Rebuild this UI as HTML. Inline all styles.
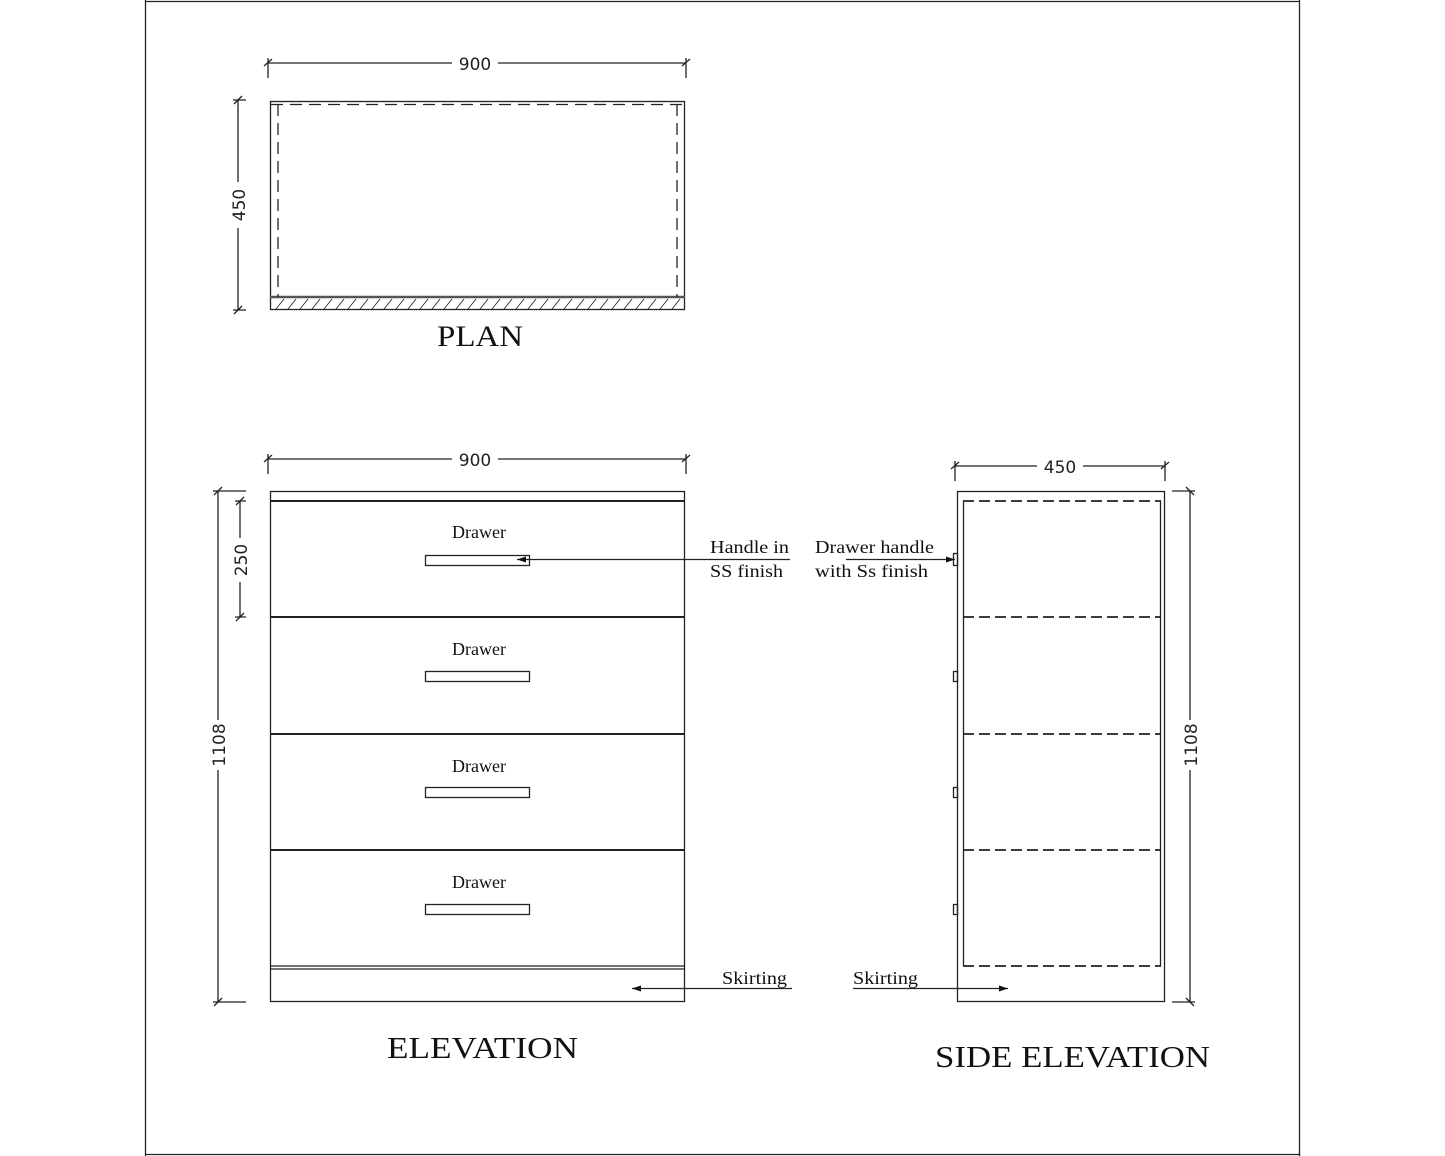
<!DOCTYPE html>
<html><head><style>
html,body{margin:0;padding:0;background:#fff;}
svg{display:block;}
.d{font-family:"DejaVu Sans","Liberation Sans",sans-serif;font-size:17px;fill:#222;}
.s{font-family:"Liberation Serif",serif;fill:#111;}
</style></head><body>
<svg width="1445" height="1156" viewBox="0 0 1445 1156" xmlns="http://www.w3.org/2000/svg">
<rect width="1445" height="1156" fill="#fff"/>
<g fill="none" stroke="#222" stroke-width="1.3">
<line x1="145.5" y1="0" x2="145.5" y2="1156"/>
<line x1="1299.5" y1="0" x2="1299.5" y2="1156"/>
<line x1="145" y1="1.5" x2="1300" y2="1.5"/>
<line x1="145" y1="1154.5" x2="1300" y2="1154.5"/>

<rect x="270.5" y="101.5" width="414" height="208"/>
<line x1="270" y1="297" x2="685" y2="297" stroke-width="2.5" stroke="#555"/>
<path d="M278 104V297 M677 104V297 M271 104.5H684" stroke-dasharray="12,7"/>
<path d="M268 63H686 M268 58V78 M686 58V78 M264 66L272 59 M682 66L690 59"/>
<path d="M238 100V310 M233 100H246 M233 310H246 M234 104L242 96 M234 314L242 306"/>
</g>
<g stroke="#333" stroke-width="1">
<path d="M276 309l8-10 M288 309l8-10 M300 309l8-10 M312 309l8-10 M324 309l8-10 M336 309l8-10 M348 309l8-10 M360 309l8-10 M372 309l8-10 M384 309l8-10 M396 309l8-10 M408 309l8-10 M420 309l8-10 M432 309l8-10 M444 309l8-10 M456 309l8-10 M468 309l8-10 M480 309l8-10 M492 309l8-10 M504 309l8-10 M516 309l8-10 M528 309l8-10 M540 309l8-10 M552 309l8-10 M564 309l8-10 M576 309l8-10 M588 309l8-10 M600 309l8-10 M612 309l8-10 M624 309l8-10 M636 309l8-10 M648 309l8-10 M660 309l8-10 M672 309l8-10"/>
</g>
<rect x="452" y="53" width="46" height="20" fill="#fff"/>
<text class="d" x="475" y="70" text-anchor="middle">900</text>
<rect x="228" y="182" width="20" height="46" fill="#fff"/>
<text class="d" transform="translate(245,205) rotate(-90)" text-anchor="middle">450</text>
<text class="s" x="437" y="346" font-size="30" textLength="86" lengthAdjust="spacingAndGlyphs">PLAN</text>

<g fill="none" stroke="#222" stroke-width="1.3">
<rect x="270.5" y="491.5" width="414" height="510"/>
<line x1="270" y1="501" x2="685" y2="501" stroke-width="2"/>
<line x1="270" y1="617" x2="685" y2="617" stroke-width="2"/>
<line x1="270" y1="734" x2="685" y2="734" stroke-width="2"/>
<line x1="270" y1="850" x2="685" y2="850" stroke-width="2"/>
<line x1="270" y1="966" x2="685" y2="966"/>
<line x1="270" y1="969" x2="685" y2="969"/>
<rect x="425.5" y="555.5" width="104" height="10"/>
<rect x="425.5" y="671.5" width="104" height="10"/>
<rect x="425.5" y="787.5" width="104" height="10"/>
<rect x="425.5" y="904.5" width="104" height="10"/>
<path d="M268 459H686 M268 454V474 M686 454V474 M264 462L272 455 M682 462L690 455"/>
<path d="M218 491V1002 M213 491H246 M213 1002H246 M214 495L222 487 M214 1006L222 998"/>
<path d="M240 501V617 M235 501H246 M235 617H246 M236 505L244 497 M236 621L244 613"/>
<path d="M517 559.5H790"/>
<path d="M632 988.5H792"/>
<path d="M846 559.5H955"/>
<path d="M853 988.5H1008"/>
</g>
<g fill="#111">
<path d="M517 559.5l9-3v6z"/>
<path d="M632 988.5l9-3v6z"/>
<path d="M955 559.5l-9-3v6z"/>
<path d="M1008 988.5l-9-3v6z"/>
</g>
<rect x="452" y="449" width="46" height="20" fill="#fff"/>
<text class="d" x="475" y="466" text-anchor="middle">900</text>
<rect x="208" y="720" width="20" height="50" fill="#fff"/>
<text class="d" transform="translate(225,745) rotate(-90)" text-anchor="middle">1108</text>
<rect x="230" y="538" width="20" height="44" fill="#fff"/>
<text class="d" transform="translate(247,560) rotate(-90)" text-anchor="middle">250</text>
<g class="s" font-size="18" text-anchor="middle">
<text x="479" y="538">Drawer</text>
<text x="479" y="655">Drawer</text>
<text x="479" y="772">Drawer</text>
<text x="479" y="888">Drawer</text>
</g>
<g class="s" font-size="18">
<text x="710" y="553" textLength="79" lengthAdjust="spacingAndGlyphs">Handle in</text>
<text x="710" y="577" textLength="73" lengthAdjust="spacingAndGlyphs">SS finish</text>
<text x="815" y="553" textLength="119" lengthAdjust="spacingAndGlyphs">Drawer handle</text>
<text x="815" y="577" textLength="113" lengthAdjust="spacingAndGlyphs">with Ss finish</text>
<text x="722" y="984" textLength="65" lengthAdjust="spacingAndGlyphs">Skirting</text>
<text x="853" y="984" textLength="65" lengthAdjust="spacingAndGlyphs">Skirting</text>
</g>
<text class="s" x="387" y="1058" font-size="31" textLength="191" lengthAdjust="spacingAndGlyphs">ELEVATION</text>

<g fill="none" stroke="#222" stroke-width="1.3">
<rect x="957.5" y="491.5" width="207" height="510"/>
<path d="M963.5 501V966 M1160.5 501V966"/>
<path d="M963 501H1161 M963 617H1161 M963 734H1161 M963 850H1161 M963 966H1161" stroke-dasharray="11,5" stroke-width="1.8"/>
<rect x="953.5" y="553.5" width="4" height="12"/>
<rect x="953.5" y="671.5" width="4" height="10"/>
<rect x="953.5" y="787.5" width="4" height="10"/>
<rect x="953.5" y="904.5" width="4" height="10"/>
<path d="M955 466H1165 M955 461V481 M1165 461V481 M951 469L959 462 M1161 469L1169 462"/>
<path d="M1190 491V1002 M1172 491H1195 M1172 1002H1195 M1186 487L1194 495 M1186 998L1194 1006"/>
</g>
<rect x="1037" y="456" width="46" height="20" fill="#fff"/>
<text class="d" x="1060" y="473" text-anchor="middle">450</text>
<rect x="1180" y="720" width="20" height="50" fill="#fff"/>
<text class="d" transform="translate(1197,745) rotate(-90)" text-anchor="middle">1108</text>
<text class="s" x="935" y="1067" font-size="31" textLength="275" lengthAdjust="spacingAndGlyphs">SIDE ELEVATION</text>
</svg>
</body></html>
